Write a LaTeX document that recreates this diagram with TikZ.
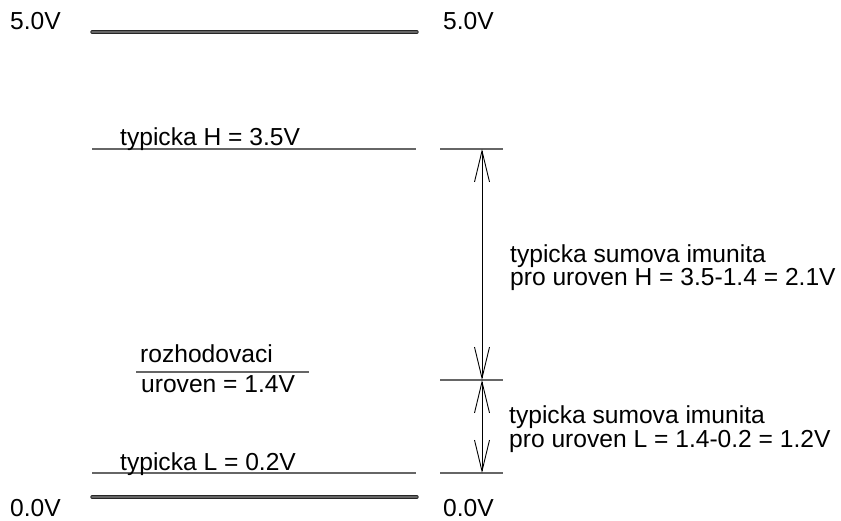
\documentclass[tikz,border=0pt]{standalone}
\usepackage{fontspec}
\setmainfont{Liberation Sans}
\usetikzlibrary{arrows.meta}
\begin{document}
\begin{tikzpicture}[x=1pt,y=-1pt,
  lbl/.style={anchor=base west, inner sep=0pt, font=\fontsize{24.6}{24.6}\selectfont},
  rail/.style={draw=black!85, double=black!60, double distance=1.6pt, line width=0.9pt, line cap=round},
  level/.style={draw=black!60, line width=1.2pt},
  dim/.style={draw=black, line width=0.9pt,
    {Straight Barb[length=31pt,width=15pt]}-{Straight Barb[length=31pt,width=15pt]}}]
  \useasboundingbox (0,0) rectangle (841,520);

  % supply rails
  \coordinate (topA) at (92,32);  \coordinate (topB) at (417,32);
  \coordinate (botA) at (92,497); \coordinate (botB) at (417,497);
  \draw[rail] (topA) -- (topB);
  \draw[rail] (botA) -- (botB);
  \node[lbl] (v5l) at (10,29)  {5.0V};
  \node[lbl] (v5r) at (443,29) {5.0V};
  \node[lbl] (v0l) at (10,516) {0.0V};
  \node[lbl] (v0r) at (443,516) {0.0V};

  % typical high level
  \coordinate (hA) at (92,149);  \coordinate (hB) at (416,149);
  \coordinate (hT1) at (440,149); \coordinate (hT2) at (503,149);
  \draw[level] (hA) -- (hB);
  \draw[level] (hT1) -- (hT2);
  \node[lbl] (hTxt) at (120,145) {typicka H = 3.5V};

  % decision threshold
  \coordinate (mA) at (136,372); \coordinate (mB) at (309,372);
  \coordinate (mT1) at (440,380); \coordinate (mT2) at (503,380);
  \draw[level] (mA) -- (mB);
  \draw[level] (mT1) -- (mT2);
  \node[lbl] (mTxt1) at (140,362) {rozhodovaci};
  \node[lbl] (mTxt2) at (141,392) {uroven = 1.4V};

  % typical low level
  \coordinate (lA) at (92,473);  \coordinate (lB) at (416,473);
  \coordinate (lT1) at (440,473); \coordinate (lT2) at (503,473);
  \draw[level] (lA) -- (lB);
  \draw[level] (lT1) -- (lT2);
  \node[lbl] (lTxt) at (120,470) {typicka L = 0.2V};

  % noise margins
  \coordinate (hD) at (482,149);
  \coordinate (mD) at (482,380);
  \coordinate (lD) at (482,473);
  \draw[dim] (mD) -- (hD);
  \draw[dim] (lD) -- (mD);
  \node[lbl] (nh1) at (510,262) {typicka sumova imunita};
  \node[lbl] (nh2) at (510,285) {pro uroven H = 3.5-1.4 = 2.1V};
  \node[lbl] (nl1) at (509,423) {typicka sumova imunita};
  \node[lbl] (nl2) at (509,447) {pro uroven L = 1.4-0.2 = 1.2V};
\end{tikzpicture}
\end{document}
